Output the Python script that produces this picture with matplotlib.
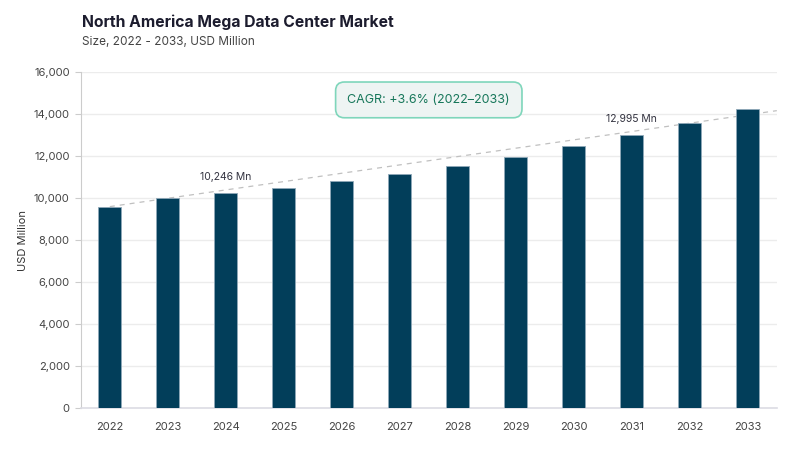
import numpy as np
import matplotlib
matplotlib.use("Agg")
import matplotlib.pyplot as plt
from matplotlib.ticker import FuncFormatter

plt.rcParams['font.family'] = ['Inter', 'DejaVu Sans']

years = ['2022', '2023', '2024', '2025', '2026', '2027',
         '2028', '2029', '2030', '2031', '2032', '2033']
values = [9590, 10000, 10246, 10500, 10810, 11140,
          11540, 11970, 12460, 12995, 13570, 14220]
labelled = {'2024': '10,246 Mn', '2031': '12,995 Mn'}
cagr_text = 'CAGR: +3.6% (2022–2033)'

bar_color = '#023e5a'
text_dark = '#1c1c2e'
grey = '#444444'

fig = plt.figure(figsize=(8, 4.5), dpi=100)
ax = fig.add_axes([0.101, 0.0933, 0.870, 0.7467])

x = np.arange(len(years))
ax.bar(x, values, width=0.4, color=bar_color, edgecolor='#8fa8b8', linewidth=0.6, zorder=3)

# trend line from first to last bar
ax.plot([x[0], x[-1] + 0.5], [values[0], values[-1] - 60], ls=(0, (4, 4)), color='#c0c0c0', lw=0.9, zorder=2.5)

for i, yr in enumerate(years):
    if yr in labelled:
        ax.text(x[i], values[i] + 520, labelled[yr], ha='center', va='bottom',
                fontsize=7.5, color='#333340', zorder=5)

ax.set_xlim(-0.5, 11.5)
ax.set_ylim(0, 16000)
ax.set_yticks(np.arange(0, 16001, 2000))
ax.yaxis.set_major_formatter(FuncFormatter(lambda v, p: f'{int(v):,}'))
ax.set_xticks(x)
ax.set_xticklabels(years)
ax.tick_params(axis='x', length=0, pad=10, labelsize=8, labelcolor=grey)
ax.tick_params(axis='y', length=4, width=0.8, color='#cccccc', pad=4, labelsize=8, labelcolor=grey)
ax.grid(axis='y', color='#ececec', lw=1, zorder=0)
ax.set_axisbelow(True)
for s in ['top', 'right']:
    ax.spines[s].set_visible(False)
ax.spines['left'].set_color('#cccccc')
ax.spines['bottom'].set_color('#dcdce4')
ax.spines['bottom'].set_linewidth(1.2)
ax.set_ylabel('USD Million', fontsize=8, color='#333333', labelpad=4)

ax.text(0.5, 0.917, cagr_text, transform=ax.transAxes, ha='center', va='center',
        fontsize=9, color='#17775a', zorder=6,
        bbox=dict(boxstyle='round,pad=0.95,rounding_size=0.7', fc='#eef4f3', ec='#7fd6bb', lw=1.2))

fig.text(0.1025, 0.95, 'North America Mega Data Center Market', fontsize=11.3,
         fontweight='bold', color=text_dark, va='center')
fig.text(0.1025, 0.907, 'Size, 2022 - 2033, USD Million', fontsize=8.5, color='#444444', va='center')

fig.savefig('out.png', dpi=100)
